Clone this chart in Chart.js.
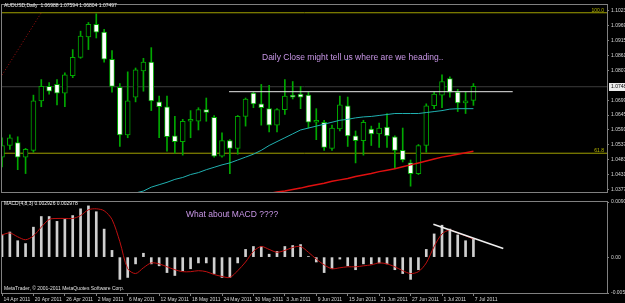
<!DOCTYPE html>
<html>
<head>
<meta charset="utf-8">
<title>AUDUSD Daily</title>
<script src="https://cdn.jsdelivr.net/npm/chart.js@4.4.1/dist/chart.umd.min.js"></script>
<style>
  body { margin: 0; background: #000; }
  #chartPrice { position: absolute; left: 0; top: 0; }
  #chartMacd { position: absolute; left: 0; top: 197px; }
</style>
</head>
<body>
<canvas id="chartPrice" width="625" height="197"></canvas>
<canvas id="chartMacd" width="625" height="106"></canvas>
<script>
const dates = [
    "14 Apr 2011", "15 Apr 2011", "18 Apr 2011", "19 Apr 2011", "20 Apr 2011", "21 Apr 2011", "22 Apr 2011",
    "25 Apr 2011", "26 Apr 2011", "27 Apr 2011", "28 Apr 2011", "29 Apr 2011",
    "2 May 2011", "3 May 2011", "4 May 2011", "5 May 2011", "6 May 2011",
    "9 May 2011", "10 May 2011", "11 May 2011", "12 May 2011", "13 May 2011",
    "16 May 2011", "17 May 2011", "18 May 2011", "19 May 2011", "20 May 2011",
    "23 May 2011", "24 May 2011", "25 May 2011", "26 May 2011", "27 May 2011",
    "30 May 2011", "31 May 2011", "1 Jun 2011", "2 Jun 2011", "3 Jun 2011",
    "6 Jun 2011", "7 Jun 2011", "8 Jun 2011", "9 Jun 2011", "10 Jun 2011",
    "13 Jun 2011", "14 Jun 2011", "15 Jun 2011", "16 Jun 2011", "17 Jun 2011",
    "20 Jun 2011", "21 Jun 2011", "22 Jun 2011", "23 Jun 2011", "24 Jun 2011",
    "27 Jun 2011", "28 Jun 2011", "29 Jun 2011", "30 Jun 2011", "1 Jul 2011",
    "4 Jul 2011", "5 Jul 2011", "6 Jul 2011", "7 Jul 2011"
]

const opens = [
    1.04930, 1.05351, 1.05457, 1.04930, 1.05176, 1.06966, 1.07492, 1.07563, 1.07247, 1.07878,
    1.08545, 1.09282, 1.09739, 1.09458, 1.08475, 1.07457, 1.05737, 1.07106, 1.08054, 1.08370,
    1.06931, 1.06755, 1.05702, 1.05492, 1.06229, 1.06229, 1.06650, 1.06369, 1.04966, 1.05527,
    1.05246, 1.06404, 1.07247, 1.06861, 1.06685, 1.06088, 1.06650, 1.07141, 1.07212, 1.07176,
    1.06194, 1.06194, 1.05246, 1.05948, 1.06790, 1.05702, 1.05527, 1.05948, 1.05772, 1.06018,
    1.05667, 1.05176, 1.04720, 1.04334, 1.05351, 1.06790, 1.07176, 1.07773, 1.07282, 1.06896,
    1.06988
]
const highs = [
    1.05632, 1.05737, 1.05667, 1.05246, 1.07176, 1.07738, 1.07633, 1.07738, 1.07984, 1.08826,
    1.09493, 1.09809, 1.10125, 1.09563, 1.08791, 1.07598, 1.08019, 1.08159, 1.08510, 1.08896,
    1.07141, 1.07141, 1.06404, 1.06299, 1.06615, 1.06720, 1.07071, 1.06439, 1.05808, 1.05562,
    1.06439, 1.07071, 1.07282, 1.07563, 1.07527, 1.06685, 1.07738, 1.07668, 1.07492, 1.07282,
    1.06685, 1.06264, 1.06088, 1.07141, 1.07106, 1.05878, 1.06264, 1.06053, 1.06159, 1.06510,
    1.05702, 1.05983, 1.04825, 1.05386, 1.06861, 1.07282, 1.07914, 1.07843, 1.07387, 1.07282,
    1.07594
]
const lows = [
    1.04579, 1.05211, 1.04474, 1.04334, 1.05106, 1.06755, 1.07212, 1.06825, 1.06755, 1.07808,
    1.08510, 1.08826, 1.09247, 1.08370, 1.07282, 1.05316, 1.05632, 1.06931, 1.07317, 1.06615,
    1.05632, 1.05141, 1.05071, 1.05001, 1.05632, 1.05913, 1.06229, 1.04930, 1.04930, 1.04334,
    1.05036, 1.06053, 1.06720, 1.06088, 1.05843, 1.05843, 1.06474, 1.07036, 1.06685, 1.05983,
    1.05562, 1.05176, 1.05176, 1.05878, 1.05316, 1.04720, 1.05001, 1.05351, 1.05281, 1.05281,
    1.04509, 1.04755, 1.03877, 1.04298, 1.05106, 1.06685, 1.06720, 1.07106, 1.06580, 1.06510,
    1.06804
]
const closes = [
    1.05351, 1.05632, 1.04930, 1.05211, 1.06966, 1.07492, 1.07317, 1.07247, 1.07914, 1.08545,
    1.09318, 1.09739, 1.09458, 1.08475, 1.07492, 1.05737, 1.06966, 1.08089, 1.08370, 1.06966,
    1.06755, 1.05667, 1.05492, 1.06229, 1.06264, 1.06650, 1.06545, 1.04966, 1.05527, 1.05246,
    1.06404, 1.07036, 1.06861, 1.06720, 1.06088, 1.06650, 1.07141, 1.07106, 1.07106, 1.06194,
    1.06229, 1.05281, 1.05983, 1.06825, 1.05702, 1.05527, 1.06194, 1.05772, 1.05983, 1.05702,
    1.05176, 1.04825, 1.04334, 1.05351, 1.06790, 1.07212, 1.07668, 1.07282, 1.06896, 1.06966,
    1.07497
]

// moving averages (teal = faster, red = slower)
const maTeal = [
    null, null, null, null, null, null, null, null, null, null,
    null, null, null, null, null, null, 1.03560, 1.03631, 1.03701, 1.03842,
    1.03930, 1.04017, 1.04123, 1.04193, 1.04298, 1.04369, 1.04474, 1.04561, 1.04649, 1.04720,
    1.04825, 1.04930, 1.05036, 1.05176, 1.05351, 1.05492, 1.05632, 1.05772, 1.05913, 1.05983,
    1.06053, 1.06123, 1.06194, 1.06264, 1.06299, 1.06352, 1.06387, 1.06404, 1.06439, 1.06474,
    1.06510, 1.06510, 1.06510, 1.06510, 1.06545, 1.06580, 1.06615, 1.06668, 1.06685, 1.06685,
    1.06685
]
const maRed = [
    null, null, null, null, null, null, null, null, null, null,
    null, null, null, null, null, null, null, null, null, null,
    null, null, null, null, null, null, null, null, null, null,
    null, null, null, null, 1.03613, 1.03666, 1.03701, 1.03754, 1.03807, 1.03877,
    1.03930, 1.03983, 1.04053, 1.04105, 1.04158, 1.04228, 1.04281, 1.04334, 1.04404, 1.04457,
    1.04509, 1.04579, 1.04649, 1.04720, 1.04790, 1.04860, 1.04930, 1.04983, 1.05036, 1.05089,
    1.05141
]

// MACD(4,8,3)
const macdMain = [
    0.00370, 0.00413, 0.00270, 0.00223, 0.00493, 0.00668, 0.00668, 0.00588, 0.00620, 0.00684,
    0.00795, 0.00843, 0.00747, 0.00461, 0.00111, -0.00366, -0.00334, -0.00111, 0.00064, -0.00111,
    -0.00143, -0.00254, -0.00302, -0.00223, -0.00191, -0.00095, -0.00095, -0.00270, -0.00334, -0.00334,
    -0.00095, 0.00127, 0.00175, 0.00175, 0.00048, 0.00095, 0.00175, 0.00191, 0.00207, 0.00010,
    -0.00080, -0.00254, -0.00191, -0.00032, -0.00143, -0.00207, -0.00111, -0.00111, -0.00095, -0.00111,
    -0.00207, -0.00270, -0.00366, -0.00207, 0.00127, 0.00382, 0.00525, 0.00461, 0.00366, 0.00270,
    0.00293
]
const macdSignal = [
    0.00366, 0.00398, 0.00334, 0.00286, 0.00350, 0.00493, 0.00620, 0.00636, 0.00636, 0.00636,
    0.00684, 0.00779, 0.00795, 0.00763, 0.00620, 0.00254, -0.00191, -0.00270, -0.00175, -0.00095,
    -0.00111, -0.00159, -0.00207, -0.00239, -0.00239, -0.00223, -0.00239, -0.00286, -0.00318, -0.00334,
    -0.00223, -0.00080, 0.00095, 0.00175, 0.00127, 0.00080, 0.00111, 0.00159, 0.00175, 0.00080,
    -0.00032, -0.00127, -0.00191, -0.00175, -0.00159, -0.00159, -0.00143, -0.00127, -0.00095, -0.00111,
    -0.00159, -0.00223, -0.00270, -0.00239, -0.00095, 0.00175, 0.00382, 0.00445, 0.00398, 0.00350,
    0.00298
]

// axis labels
const priceTicks = [1.10230, 1.09690, 1.09155, 1.08612, 1.08075, 1.06990, 1.06452, 1.05915, 1.05378, 1.04832, 1.04310, 1.03770]
const bidPrice = 1.07480
const macdTicks = [0.00907, 0, -0.00590]

// drawn objects
const fibLabels = ["100.0", "61.8"]
const fibPrices = [1.10160, 1.05071]
const resistanceBars = [28.9, 65]
const resistancePrice = 1.07300
const fibTrendBars = [-0.2, 5.0]
const fibTrendPrices = [1.07808, 1.10160]
const macdTrendBars = [54.9, 63.8]
const macdTrendValues = [0.00541, 0.00143]

const xMin = 0, xMax = 77
const green = '#00a800'
const gray = '#808080'
const noteColor = '#c896e6'

Chart.defaults.font.family = "'Liberation Sans', Arial, sans-serif"
Chart.defaults.color = '#d8d8d8'

const frame = {
    id: 'frame',
    afterDraw(chart) {
        const { ctx, chartArea: a } = chart
        ctx.save()
        ctx.strokeStyle = gray
        ctx.lineWidth = 1
        ctx.strokeRect(a.left - 0.5, a.top - 0.5, a.right - a.left + 1, a.bottom - a.top + 1)
        ctx.restore()
    }
}

const notes = {
    id: 'notes',
    afterDraw(chart, args, opts) {
        const ctx = chart.ctx
        ctx.save()
        ctx.textBaseline = 'middle'
        ;(opts.items || []).forEach(n => {
            ctx.font = n.size + "px 'Liberation Sans', Arial, sans-serif"
            ctx.fillStyle = n.color
            ctx.textAlign = n.align || 'left'
            ctx.fillText(n.text, n.x, n.y)
        })
        if (opts.fib) {
            const y = chart.scales.y
            ctx.font = "5px 'Liberation Sans', Arial, sans-serif"
            ctx.fillStyle = '#b8b800'
            ctx.textAlign = 'right'
            ctx.textBaseline = 'bottom'
            fibLabels.forEach((t, i) => ctx.fillText(t, chart.chartArea.right - 3, y.getPixelForValue(fibPrices[i])))
        }
        if (opts.bid) {
            const y = chart.scales.y.getPixelForValue(bidPrice)
            ctx.fillStyle = '#ececec'
            ctx.fillRect(chart.chartArea.right + 2, Math.round(y) - 4, 18, 8)
            ctx.fillStyle = '#000'
            ctx.font = "5px 'Liberation Sans', Arial, sans-serif"
            ctx.textAlign = 'left'
            ctx.textBaseline = 'middle'
            ctx.fillText(bidPrice.toFixed(5), chart.chartArea.right + 4, Math.round(y))
        }
        ctx.restore()
    }
}

function hLine(price) {
    return [{ x: xMin, y: price }, { x: xMax, y: price }]
}

new Chart(document.getElementById('chartPrice').getContext('2d'), {
    type: 'bar',
    data: {
        datasets: [
            {
                type: 'line', label: 'MA fast',
                data: maTeal.map((v, i) => ({ x: i, y: v })),
                borderColor: '#20b0b0', borderWidth: 1, pointRadius: 0, clip: 0, order: 1
            },
            {
                type: 'line', label: 'MA slow',
                data: maRed.map((v, i) => ({ x: i, y: v })),
                borderColor: '#e01010', borderWidth: 1.5, pointRadius: 0, clip: 0, order: 1
            },
            {
                type: 'line', label: 'Fib 100',
                data: hLine(fibPrices[0]),
                borderColor: '#a0a000', borderWidth: 1, pointRadius: 0, clip: 0, order: 5
            },
            {
                type: 'line', label: 'Fib 61.8',
                data: hLine(fibPrices[1]),
                borderColor: '#a0a000', borderWidth: 1, pointRadius: 0, clip: 0, order: 5
            },
            {
                type: 'line', label: 'Bid',
                data: hLine(bidPrice),
                borderColor: '#3c3c3c', borderWidth: 1, pointRadius: 0, clip: 0, order: 6
            },
            {
                type: 'line', label: 'Fib trend',
                data: fibTrendBars.map((b, i) => ({ x: b, y: fibTrendPrices[i] })),
                borderColor: '#a01010', borderWidth: 1, borderDash: [1, 2], pointRadius: 0, clip: 0, order: 5
            },
            {
                type: 'line', label: 'Resistance',
                data: resistanceBars.map(b => ({ x: b, y: resistancePrice })),
                borderColor: '#e8e8e8', borderWidth: 1, pointRadius: 0, clip: 0, order: 1
            },
            {
                label: 'Wicks',
                data: dates.map((d, i) => ({ x: i, y: [lows[i], highs[i]] })),
                backgroundColor: green, barThickness: 1, grouped: false, clip: 0, order: 4
            },
            {
                label: 'Bodies',
                data: dates.map((d, i) => ({ x: i, y: [opens[i], closes[i]] })),
                backgroundColor: dates.map((d, i) => closes[i] >= opens[i] ? '#000000' : '#ffffff'),
                borderColor: green, borderWidth: 1, borderSkipped: false,
                barThickness: 5, minBarLength: 2, grouped: false, clip: 0, order: 3
            }
        ]
    },
    options: {
        responsive: false,
        animation: false,
        events: [],
        layout: { padding: { left: 2, top: 3, right: 0, bottom: 1 } },
        scales: {
            x: { type: 'linear', min: xMin, max: xMax, offset: false, display: false },
            y: {
                position: 'right',
                min: 1.03666,
                max: 1.10441,
                afterFit: s => { s.width = 18 },
                afterBuildTicks: s => { s.ticks = priceTicks.map(v => ({ value: v })) },
                grid: { drawOnChartArea: false, color: gray, tickLength: 2 },
                border: { color: gray },
                ticks: {
                    autoSkip: false, padding: 2, color: '#d8d8d8',
                    font: { size: 5 },
                    callback: v => v.toFixed(5)
                }
            }
        },
        plugins: {
            legend: { display: false },
            tooltip: { enabled: false },
            notes: {
                fib: true,
                bid: true,
                items: [
                    { text: "AUDUSD,Daily  1.06988 1.07594 1.06804 1.07497", x: 4, y: 6, size: 5, color: '#f0f0f0' },
                    { text: "Daily Close might tell us where are we heading..", x: 262, y: 58, size: 8.5, color: noteColor }
                ]
            }
        }
    },
    plugins: [frame, notes]
})

new Chart(document.getElementById('chartMacd').getContext('2d'), {
    type: 'bar',
    data: {
        datasets: [
            {
                type: 'line', label: 'Signal',
                data: macdSignal.map((v, i) => ({ x: i, y: v })),
                borderColor: '#c01010', borderWidth: 1, pointRadius: 0, tension: 0.3, clip: 0, order: 1
            },
            {
                type: 'line', label: 'Trend',
                data: macdTrendBars.map((b, i) => ({ x: b, y: macdTrendValues[i] })),
                borderColor: '#f0f0f0', borderWidth: 1.5, pointRadius: 0, clip: 0, order: 0
            },
            {
                label: 'MACD',
                data: macdMain.map((v, i) => ({ x: i, y: v })),
                backgroundColor: '#d0d0d0', barThickness: 2, grouped: false, clip: 0, order: 2
            }
        ]
    },
    options: {
        responsive: false,
        animation: false,
        events: [],
        layout: { padding: { left: 2, top: 2, right: 0, bottom: 0 } },
        scales: {
            x: {
                type: 'linear', min: xMin, max: xMax, offset: false,
                afterFit: s => { s.height = 10 },
                afterBuildTicks: s => { s.ticks = dates.map((d, i) => ({ value: i })).filter(t => t.value % 4 === 0) },
                grid: { drawOnChartArea: false, offset: false, color: gray, tickLength: 3 },
                border: { color: gray },
                ticks: {
                    autoSkip: false, maxRotation: 0, align: 'start', padding: 1,
                    color: '#d8d8d8', font: { size: 5 },
                    callback: v => " " + dates[v]
                }
            },
            y: {
                position: 'right',
                min: macdTicks[2],
                max: macdTicks[0],
                afterFit: s => { s.width = 18 },
                afterBuildTicks: s => { s.ticks = macdTicks.map(v => ({ value: v })) },
                grid: { drawOnChartArea: false, color: gray, tickLength: 2 },
                border: { color: gray },
                ticks: {
                    autoSkip: false, padding: 2, color: '#d8d8d8',
                    font: { size: 5 },
                    callback: v => v === 0 ? "0.00" : v.toFixed(5)
                }
            }
        },
        plugins: {
            legend: { display: false },
            tooltip: { enabled: false },
            notes: {
                items: [
                    { text: "MACD(4,8,3) 0.002926 0.002978", x: 4, y: 7, size: 5, color: '#f0f0f0' },
                    { text: "What about MACD ????", x: 186, y: 18, size: 8.5, color: noteColor },
                    { text: "MetaTrader, \u00a9 2001-2011 MetaQuotes Software Corp.", x: 4, y: 92, size: 5, color: '#e0e0e0' }
                ]
            }
        }
    },
    plugins: [frame, notes]
})
</script>
</body>
</html>
